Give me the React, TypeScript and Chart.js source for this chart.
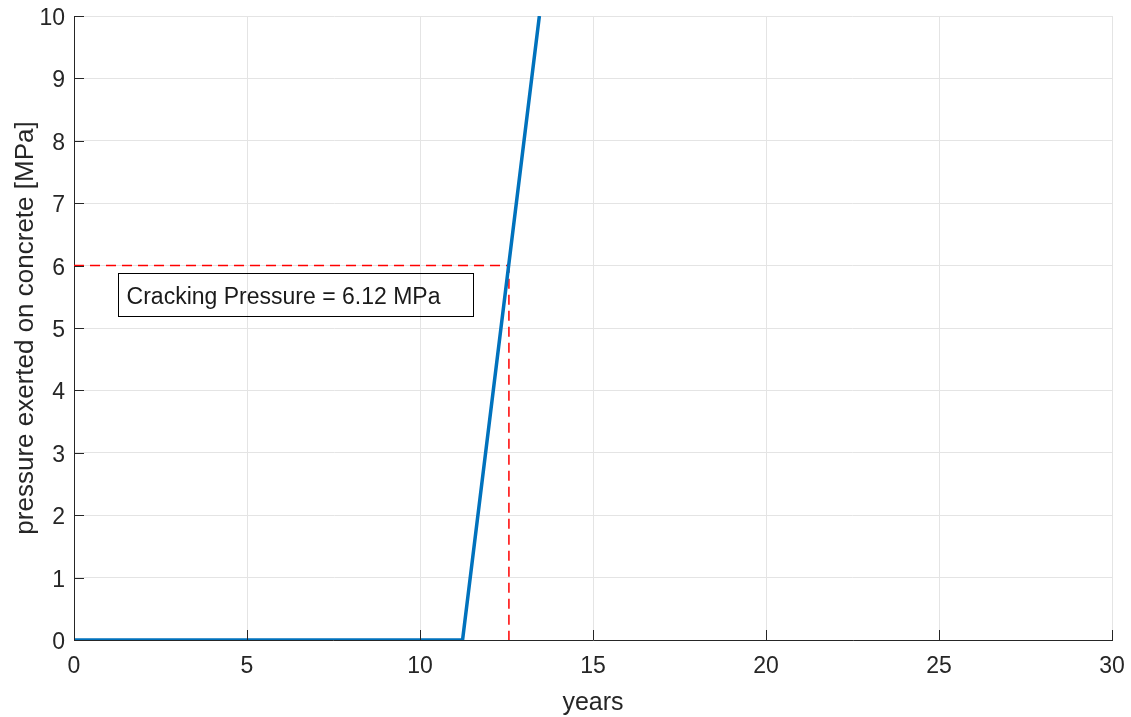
import React, { useEffect, useRef } from "react";
import { Chart, registerables } from "chart.js";

Chart.register(...registerables);

const curveYears = [0, 11.23, 13.45];
const curvePressure = [0, 0, 10];
const crackYears = [0, 12.57, 12.57];
const crackPressure = [6, 6, 0];
const xTicks = [0, 5, 10, 15, 20, 25, 30];
const yTicks = [0, 1, 2, 3, 4, 5, 6, 7, 8, 9, 10];
const xTitle = "years";
const yTitle = "pressure exerted on concrete [MPa]";
const annotationText = "Cracking Pressure = 6.12 MPa";
const annotationBox = { x0: 1.26, x1: 11.52, y0: 5.875, y1: 5.185 };

const AXIS = "#262626";
const GRID = "#e4e4e4";
const FONT = "'Liberation Sans', Arial, Helvetica, sans-serif";

export default function App() {
  const ref = useRef<HTMLCanvasElement | null>(null);
  useEffect(() => {
    if (!ref.current) return;
    const overlay = {
      id: "overlay",
      afterDraw(chart: any) {
        const ctx = chart.ctx;
        const xs = chart.scales.x;
        const ys = chart.scales.y;
        const { left, right, top, bottom } = chart.chartArea;
        ctx.save();
        // inward ticks
        ctx.strokeStyle = AXIS;
        ctx.lineWidth = 1;
        ctx.beginPath();
        xTicks.forEach((t) => {
          const px = Math.round(xs.getPixelForValue(t)) + 0.5;
          ctx.moveTo(px, bottom);
          ctx.lineTo(px, bottom - 10);
        });
        yTicks.forEach((t) => {
          const py = Math.round(ys.getPixelForValue(t)) + 0.5;
          ctx.moveTo(left, py);
          ctx.lineTo(left + 10, py);
        });
        ctx.stroke();
        // tick labels
        ctx.fillStyle = AXIS;
        ctx.font = `23px ${FONT}`;
        ctx.textBaseline = "alphabetic";
        ctx.textAlign = "center";
        xTicks.forEach((t) => {
          ctx.fillText(String(t), xs.getPixelForValue(t), bottom + 33);
        });
        ctx.textAlign = "right";
        yTicks.forEach((t) => {
          ctx.fillText(String(t), left - 9, ys.getPixelForValue(t) + 9);
        });
        // axis titles
        ctx.font = `25px ${FONT}`;
        ctx.textAlign = "center";
        ctx.fillText(xTitle, (left + right) / 2, 710);
        ctx.save();
        ctx.font = `26px ${FONT}`;
        ctx.translate(33, (top + bottom) / 2);
        ctx.rotate(-Math.PI / 2);
        ctx.fillText(yTitle, 0, 0);
        ctx.restore();
        // annotation (transparent box)
        const bx0 = xs.getPixelForValue(annotationBox.x0);
        const bx1 = xs.getPixelForValue(annotationBox.x1);
        const by0 = ys.getPixelForValue(annotationBox.y0);
        const by1 = ys.getPixelForValue(annotationBox.y1);
        ctx.strokeStyle = "#000000";
        ctx.strokeRect(Math.round(bx0) + 0.5, Math.round(by0) + 0.5, Math.round(bx1 - bx0), Math.round(by1 - by0));
        ctx.fillStyle = "#1a1a1a";
        ctx.font = `23px ${FONT}`;
        ctx.textAlign = "left";
        ctx.textBaseline = "alphabetic";
        ctx.fillText(annotationText, bx0 + 9, (by0 + by1) / 2 + 9);
        ctx.restore();
      },
    };
    const chart = new Chart(ref.current, {
      type: "line",
      data: {
        datasets: [
          {
            data: curveYears.map((x, i) => ({ x, y: curvePressure[i] })),
            borderColor: "#0072BD",
            borderWidth: 3.5,
            pointRadius: 0,
            fill: false,
          },
          {
            data: crackYears.map((x, i) => ({ x, y: crackPressure[i] })),
            borderColor: "#ff0000",
            borderWidth: 1.5,
            borderDash: [10, 6],
            pointRadius: 0,
            fill: false,
          },
        ],
      },
      options: {
        animation: false,
        responsive: true,
        maintainAspectRatio: false,
        layout: { padding: { top: 16, right: 19, left: 0, bottom: 0 } },
        plugins: { legend: { display: false }, tooltip: { enabled: false } },
        scales: {
          x: {
            type: "linear",
            min: 0,
            max: 30,
            afterBuildTicks: (s: any) => {
              s.ticks = xTicks.map((v) => ({ value: v }));
            },
            afterFit: (s: any) => {
              s.height = 77;
            },
            ticks: { display: false },
            grid: { color: GRID, drawTicks: false },
            border: { display: true, color: AXIS },
            title: { display: false },
          },
          y: {
            type: "linear",
            min: 0,
            max: 10,
            afterBuildTicks: (s: any) => {
              s.ticks = yTicks.map((v) => ({ value: v }));
            },
            afterFit: (s: any) => {
              s.width = 74;
            },
            ticks: { display: false },
            grid: { color: GRID, drawTicks: false },
            border: { display: true, color: AXIS },
            title: { display: false },
          },
        },
      },
      plugins: [overlay],
    });
    return () => chart.destroy();
  }, []);
  return (
    <div style={{ position: "fixed", left: 0, top: 0, width: 1131, height: 717, background: "#fff" }}>
      <canvas ref={ref} />
    </div>
  );
}
